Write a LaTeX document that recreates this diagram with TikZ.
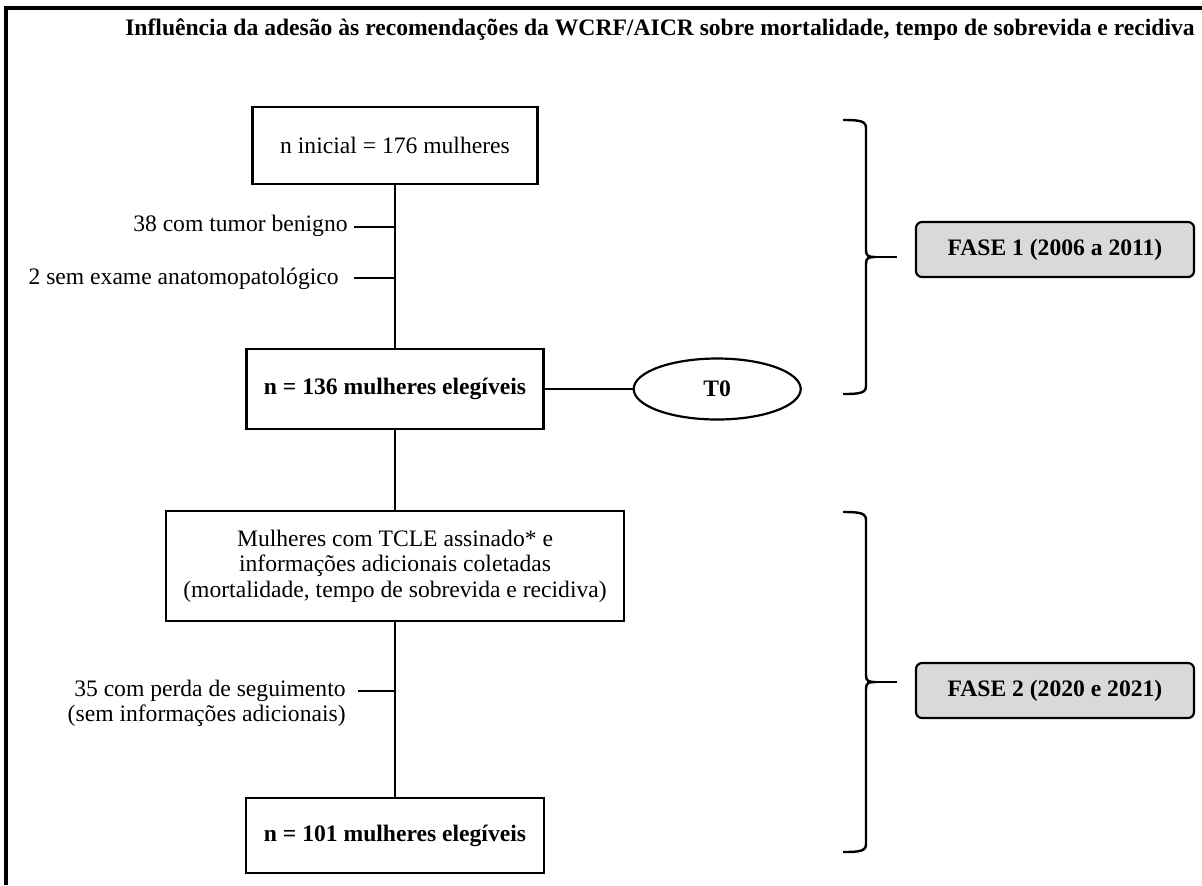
\documentclass[tikz,border=0pt]{standalone}
\usepackage{fontspec}
\setmainfont{Liberation Serif}
\usetikzlibrary{shapes.geometric, positioning}

% right-hand phase brace: top y, bottom y, tip y
\newcommand{\phasebrace}[3]{%
  \draw[bracket] (843,#1) .. controls (860,#1) and (866,#1+1) .. (866,#1+8)
    -- (866,#3-7) .. controls (866,#3-1) and (868,#3) .. (876,#3)
    .. controls (868,#3) and (866,#3+1) .. (866,#3+7)
    -- (866,#2-8) .. controls (866,#2-1) and (860,#2) .. (843,#2);
  \draw[bracket] (876,#3) -- (897,#3);
}

\begin{document}
\begin{tikzpicture}[
        x=0.5pt, y=-0.5pt,
        font=\fontsize{11.8}{12.75}\selectfont,
        box/.style={draw, line width=1.1pt, rectangle, align=center, inner sep=2pt},
        phase/.style={draw, line width=1.1pt, rectangle, rounded corners=3pt, fill=black!15, align=center, font=\fontsize{11.8}{12.75}\selectfont\bfseries, minimum width=139pt, minimum height=27.5pt},
        lbl/.style={align=right, inner sep=0pt},
        link/.style={line width=1.1pt},
        bracket/.style={line width=1.2pt},
        frame/.style={line width=2.2pt}
    ]
        \useasboundingbox (0,0) rectangle (1202,885);

        % Frame and heading
        \draw[frame] (1202,8) -- (6,8) -- (6,885);
        \node[font=\fontsize{11.8}{12.75}\selectfont\bfseries] (title) at (660,30) {Influência da adesão às recomendações da WCRF/AICR sobre mortalidade, tempo de sobrevida e recidiva};

        % Phase 1
        \node[box, minimum width=142.5pt, minimum height=38.5pt] (start) at (395,145.5) {n inicial = 176 mulheres};
        \node[box, minimum width=148.5pt, minimum height=40pt, font=\fontsize{11.8}{12.75}\selectfont\bfseries] (elig1) at (395,389) {n = 136 mulheres elegíveis};
        \node[draw, ellipse, line width=1.1pt, minimum width=83.5pt, minimum height=30.5pt, font=\fontsize{11.8}{12.75}\selectfont\bfseries, right=44pt of elig1] (t0) {T0};

        % Exclusions
        \node[lbl, anchor=east] (benign) at (348,226) {38 com tumor benigno};
        \node[lbl, anchor=east] (noexam) at (339,279) {2 sem exame anatomopatológico};
        \coordinate (d1) at (354,227);
        \coordinate (d2) at (354,278);

        % Phase 2
        \node[box, minimum width=229pt, minimum height=55pt] (tcle) at (395,566) {Mulheres com TCLE assinado* e\\informações adicionais coletadas\\(mortalidade, tempo de sobrevida e recidiva)};
        \node[lbl, anchor=east] (lost) at (346,703.5) {35 com perda de seguimento\\(sem informações adicionais)};
        \coordinate (d3) at (358,691);
        \node[box, minimum width=149pt, minimum height=37.5pt, font=\fontsize{11.8}{12.75}\selectfont\bfseries] (elig2) at (395,835.5) {n = 101 mulheres elegíveis};

        % Phase labels
        \node[phase] (fase1) at (1055,249.5) {FASE 1 (2006 a 2011)};
        \node[phase] (fase2) at (1055,690.5) {FASE 2 (2020 e 2021)};

        % Lines
        \draw[link] (start) -- (elig1);
        \draw[link] (elig1) -- (tcle);
        \draw[link] (tcle) -- (elig2);
        \draw[link] (elig1) -- (t0);
        \draw[link] (d1) -- (d1 -| start.south);
        \draw[link] (d2) -- (d2 -| start.south);
        \draw[link] (d3) -- (d3 -| tcle.south);

        % Braces
        \phasebrace{120}{394}{257}
        \phasebrace{512}{852}{682}

    \end{tikzpicture}
\end{document}
